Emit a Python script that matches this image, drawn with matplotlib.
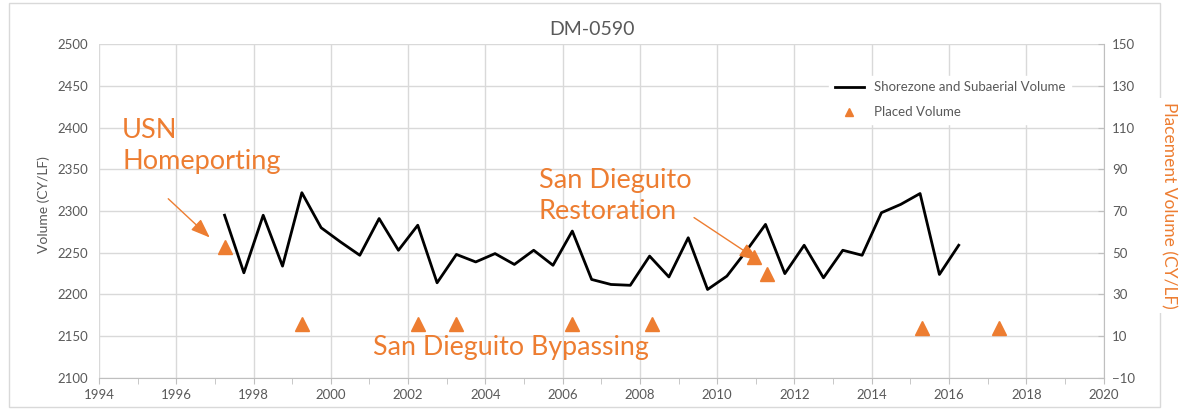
import matplotlib.pyplot as plt
from matplotlib.patches import Rectangle
from matplotlib.ticker import MultipleLocator

plt.rcParams['font.family'] = ['Lato', 'DejaVu Sans']

# survey dates and shorezone + subaerial volume (CY/LF)
survey_year = [1997.25, 1997.75, 1998.25, 1998.75, 1999.25, 1999.75, 2000.25, 2000.75,
               2001.25, 2001.75, 2002.25, 2002.75, 2003.25, 2003.75, 2004.25, 2004.75,
               2005.25, 2005.75, 2006.25, 2006.75, 2007.25, 2007.75, 2008.25, 2008.75,
               2009.25, 2009.75, 2010.25, 2010.75, 2011.25, 2011.75, 2012.25, 2012.75,
               2013.25, 2013.75, 2014.25, 2014.75, 2015.25, 2015.75, 2016.25]
volume = [2295, 2226, 2295, 2234, 2322, 2280, 2263, 2247,
          2291, 2253, 2283, 2214, 2248, 2239, 2249, 2236,
          2253, 2235, 2276, 2218, 2212, 2211, 2246, 2221,
          2268, 2206, 2222, 2252, 2284, 2225, 2259, 2220,
          2253, 2247, 2298, 2308, 2321, 2224, 2259]

# placement events (right axis)
place_year = [1997.25, 1999.25, 2002.25, 2003.25, 2006.25, 2008.3, 2010.95, 2011.3, 2015.3, 2017.3]
place_vol = [53, 16, 16, 16, 16, 16, 48, 40, 14, 14]

right_ticks = [-10, 10, 30, 50, 70, 90, 110, 130, 150]

orange = '#ED7D31'
grey = '#595959'
gridc = '#d9d9d9'

fig = plt.figure(figsize=(11.84, 4.09), dpi=100)
ax = fig.add_axes([0.0836, 0.076, 0.8485, 0.816])
ax2 = ax.twinx()

ax.plot(survey_year, volume, color='black', lw=2, label='Shorezone and Subaerial Volume', zorder=3)
ax2.plot(place_year, place_vol, linestyle='none', marker='^', ms=10, color=orange,
         label='Placed Volume', zorder=3)

ax.set_xlim(1994, 2020)
ax.set_ylim(2100, 2500)
ax2.set_ylim(-10, 150)
ax.xaxis.set_major_locator(MultipleLocator(2))
ax.xaxis.set_minor_locator(MultipleLocator(1))
ax.yaxis.set_major_locator(MultipleLocator(50))
ax2.set_yticks(right_ticks)

ax.grid(True, which='major', color=gridc, lw=1)
ax.set_axisbelow(True)
for s in ['left', 'top', 'right']:
    ax.spines[s].set_visible(False)
for s in ['left', 'top', 'bottom']:
    ax2.spines[s].set_visible(False)
ax.spines['bottom'].set_color('#bfbfbf')
ax2.spines['right'].set_color('#bfbfbf')

ax.tick_params(axis='x', which='both', direction='out', length=4, color='#bfbfbf',
               labelsize=9.5, labelcolor=grey, pad=4)
ax.tick_params(axis='y', length=0, labelsize=9.5, labelcolor=grey, pad=8)
ax2.tick_params(axis='y', direction='in', length=4, color='#bfbfbf',
                labelsize=9.5, labelcolor=grey, pad=6)

fig.text(0.037, 0.5, 'Volume (CY/LF)', rotation=90, ha='center', va='center',
         fontsize=10, color=grey)
fig.text(0.987, 0.497, 'Placement Volume (CY/LF)', rotation=270, ha='center', va='center',
         fontsize=12.5, color=orange,
         bbox=dict(facecolor='white', edgecolor='none', pad=3))
fig.text(0.5, 0.927, 'DM-0590', ha='center', va='center', fontsize=14, color=grey)

# annotations
arrow = dict(arrowstyle='-|>,head_length=0.45,head_width=0.17', color=orange, lw=1,
             mutation_scale=26)
ax.text(1994.6, 2412, 'USN\nHomeporting', color=orange, fontsize=19.5, va='top', ha='left',
        linespacing=1.3)
ax.annotate('', xy=(1996.92, 2266), xytext=(1995.74, 2317), arrowprops=arrow)
ax.text(2005.38, 2352, 'San Dieguito\nRestoration', color=orange, fontsize=19.5, va='top',
        ha='left', linespacing=1.3)
ax.annotate('', xy=(2011.13, 2239), xytext=(2009.34, 2294), arrowprops=arrow)
ax.text(2001.08, 2127, 'San Dieguito Bypassing', color=orange, fontsize=19.3, va='baseline',
        ha='left')

h1, l1 = ax.get_legend_handles_labels()
h2, l2 = ax2.get_legend_handles_labels()
leg = ax2.legend(h1 + h2, l1 + l2, loc='upper left', bbox_to_anchor=(0.727, 0.905),
                 frameon=True, facecolor='white', edgecolor='white', framealpha=1,
                 fontsize=9.5, labelspacing=1.0, handlelength=2.2, borderaxespad=0,
                 markerscale=0.6)
for t in leg.get_texts():
    t.set_color(grey)

fig.patches.append(Rectangle((0.008, 0.006), 0.972, 0.986, transform=fig.transFigure,
                             fill=False, edgecolor='#d9d9d9', lw=1))

fig.savefig('out.png', dpi=100)
